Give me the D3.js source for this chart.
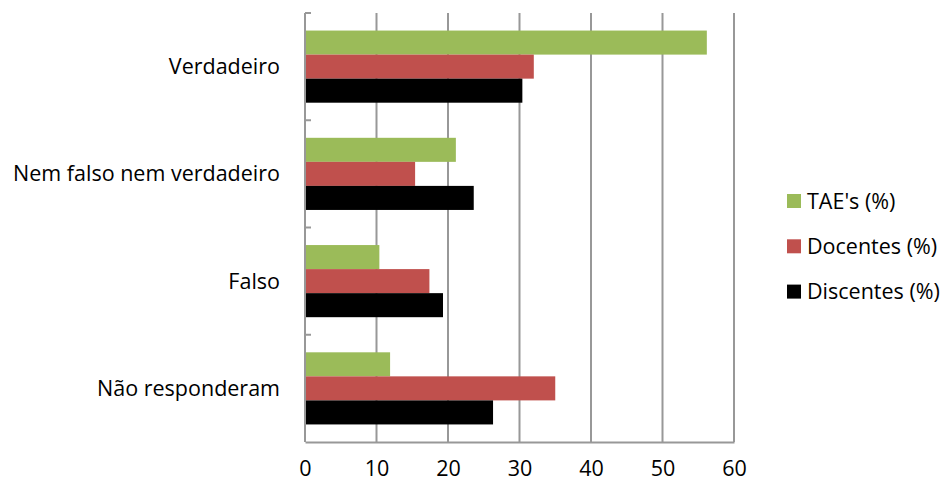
<!DOCTYPE html>
<html>
<head>
<meta charset="utf-8">
<script src="https://cdn.jsdelivr.net/npm/d3@7"></script>
<style>
  body { margin: 0; background: #fff; overflow: hidden; }
  svg text { font-family: "Open Sans", Lato, sans-serif; fill: #000; }
</style>
</head>
<body>
<svg></svg>
<script>
const w = 945;
const h = 484;

const categories = ['Verdadeiro', 'Nem falso nem verdadeiro', 'Falso', 'Não responderam'];
const seriesNames = ["TAE's (%)", 'Docentes (%)', 'Discentes (%)'];
const seriesColors = ['#9BBB59', '#C0504D', '#000000'];
const taes = [56.2, 21.1, 10.4, 11.9];
const docentes = [32.0, 15.4, 17.4, 35.0];
const discentes = [30.4, 23.6, 19.3, 26.3];
const xTicks = [0, 10, 20, 30, 40, 50, 60];

const series = [taes, docentes, discentes];

const plotLeft = 305;
const plotRight = 734;
const plotTop = 13;
const plotBottom = 442;
const fontSize = '21.5px';

let canvas = d3.select('svg').attr('width', w).attr('height', h);

const xScale = d3.scaleLinear().domain([0, 60]).range([plotLeft, plotRight]);
const yScale = d3.scaleBand().domain(categories).range([plotTop, plotBottom]);
const innerScale = d3.scaleBand()
  .domain(seriesNames)
  .range([0, yScale.bandwidth()])
  .paddingOuter(0.73);

// gridlines
canvas.append('g')
  .selectAll('line')
  .data(xTicks.slice(1))
  .enter()
  .append('line')
  .attr('x1', (d) => xScale(d))
  .attr('x2', (d) => xScale(d))
  .attr('y1', plotTop)
  .attr('y2', plotBottom)
  .attr('stroke', '#989898')
  .attr('stroke-width', 2);

// bars
const groups = canvas.append('g')
  .selectAll('g')
  .data(categories)
  .enter()
  .append('g')
  .attr('transform', (d) => `translate(0,${yScale(d)})`);

groups.selectAll('rect')
  .data((d, i) => seriesNames.map((s, j) => ({ s: s, v: series[j][i], c: seriesColors[j] })))
  .enter()
  .append('rect')
  .attr('x', xScale(0))
  .attr('y', (d) => innerScale(d.s))
  .attr('width', (d) => xScale(d.v) - xScale(0))
  .attr('height', innerScale.bandwidth())
  .attr('fill', (d) => d.c);

// x axis
const xAxis = d3.axisBottom(xScale).tickValues(xTicks).tickSize(0).tickPadding(19);
const gx = canvas.append('g')
  .attr('transform', `translate(0,${plotBottom})`)
  .call(xAxis);
gx.select('.domain').attr('stroke', '#989898').attr('stroke-width', 2);
gx.selectAll('text').attr('font-size', fontSize).style('font-family', '"Open Sans", Lato, sans-serif');

// y axis
const gy = canvas.append('g').attr('transform', `translate(${plotLeft},0)`);
gy.append('line')
  .attr('x1', 0).attr('x2', 0)
  .attr('y1', plotTop).attr('y2', plotBottom)
  .attr('stroke', '#989898').attr('stroke-width', 2);
const boundaries = categories.map((c) => yScale(c));
gy.selectAll('.tk')
  .data(boundaries)
  .enter()
  .append('line')
  .attr('class', 'tk')
  .attr('x1', 0).attr('x2', 6)
  .attr('y1', (d) => d).attr('y2', (d) => d)
  .attr('stroke', '#989898').attr('stroke-width', 2);
gy.selectAll('text')
  .data(categories)
  .enter()
  .append('text')
  .attr('x', -25)
  .attr('y', (d) => yScale(d) + yScale.bandwidth() / 2)
  .attr('dy', '0.35em')
  .attr('text-anchor', 'end')
  .attr('font-size', fontSize)
  .text((d) => d);

// legend
const legend = canvas.append('g')
  .selectAll('g')
  .data(seriesNames)
  .enter()
  .append('g')
  .attr('transform', (d, i) => `translate(787,${201 + i * 45.3})`);
legend.append('rect')
  .attr('x', 0).attr('y', -7)
  .attr('width', 14).attr('height', 14)
  .attr('fill', (d, i) => seriesColors[i]);
legend.append('text')
  .attr('x', 20)
  .attr('dy', '0.35em')
  .attr('font-size', fontSize)
  .text((d) => d);
</script>
</body>
</html>
